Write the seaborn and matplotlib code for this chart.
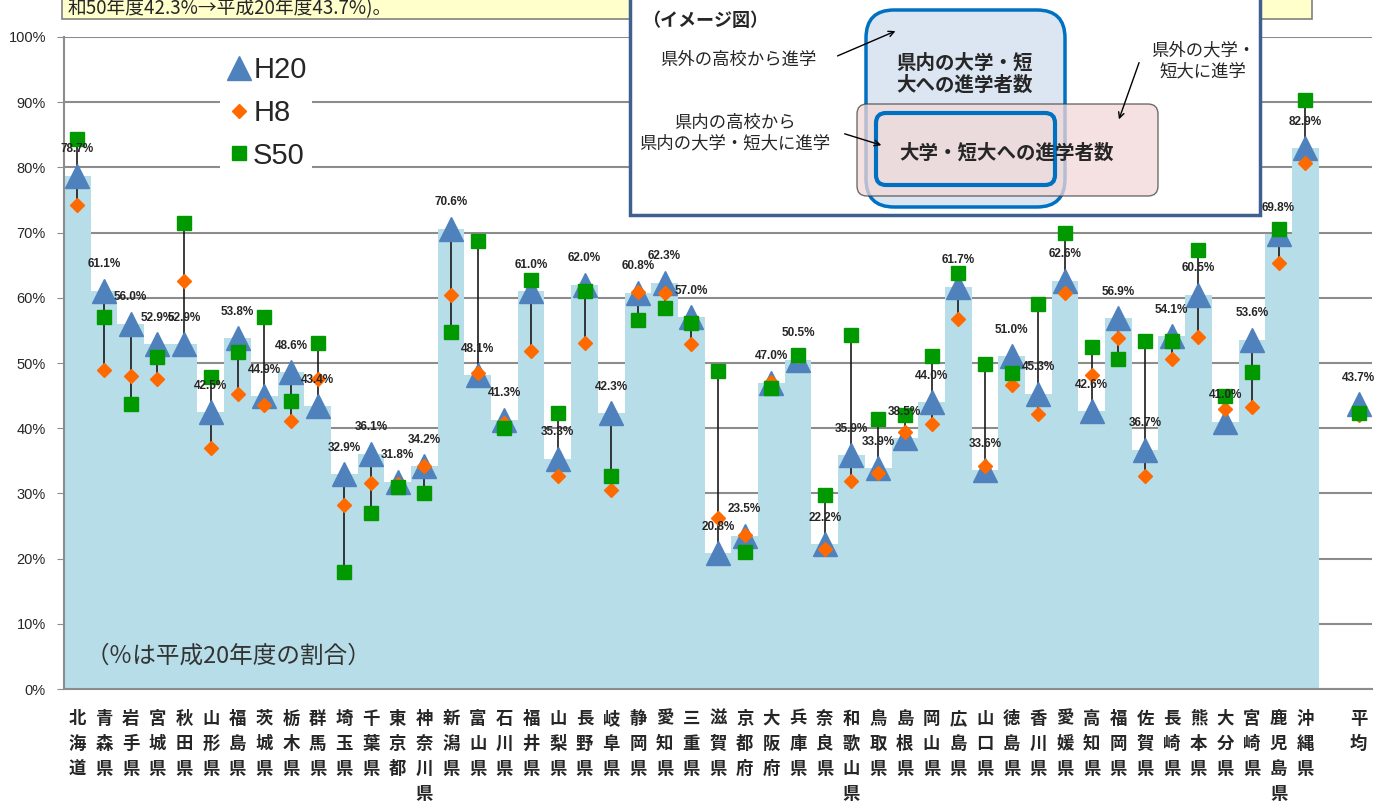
import numpy as np
import pandas as pd
import matplotlib
matplotlib.use('Agg')
import matplotlib.pyplot as plt
import seaborn as sns
from matplotlib.lines import Line2D
from matplotlib.patches import Rectangle, FancyBboxPatch

# Prefectures (47) and their shares of students going on to in-prefecture universities
prefs = ["北海道", "青森県", "岩手県", "宮城県", "秋田県", "山形県", "福島県", "茨城県", "栃木県", "群馬県",
         "埼玉県", "千葉県", "東京都", "神奈川県", "新潟県", "富山県", "石川県", "福井県", "山梨県", "長野県",
         "岐阜県", "静岡県", "愛知県", "三重県", "滋賀県", "京都府", "大阪府", "兵庫県", "奈良県", "和歌山県",
         "鳥取県", "島根県", "岡山県", "広島県", "山口県", "徳島県", "香川県", "愛媛県", "高知県", "福岡県",
         "佐賀県", "長崎県", "熊本県", "大分県", "宮崎県", "鹿児島県", "沖縄県"]
h20 = [78.7, 61.1, 56.0, 52.9, 52.9, 42.5, 53.8, 44.9, 48.6, 43.4,
       32.9, 36.1, 31.8, 34.2, 70.6, 48.1, 41.3, 61.0, 35.3, 62.0,
       42.3, 60.8, 62.3, 57.0, 20.8, 23.5, 47.0, 50.5, 22.2, 35.9,
       33.9, 38.5, 44.0, 61.7, 33.6, 51.0, 45.3, 62.6, 42.6, 56.9,
       36.7, 54.1, 60.5, 41.0, 53.6, 69.8, 82.9]
h8 = [74.3, 48.9, 48.0, 47.5, 62.6, 37.0, 45.2, 43.5, 41.1, 47.6,
      28.2, 31.6, 31.5, 34.2, 60.5, 48.4, 40.8, 51.8, 32.6, 53.1,
      30.5, 60.9, 60.8, 52.9, 26.3, 23.6, 47.1, 51.0, 21.5, 31.9,
      33.2, 39.4, 40.6, 56.7, 34.2, 46.7, 42.2, 60.8, 48.1, 53.8,
      32.6, 50.6, 54.0, 43.0, 43.2, 65.4, 80.7]
s50 = [84.3, 57.0, 43.7, 50.9, 71.5, 47.9, 51.7, 57.1, 44.2, 53.0,
       17.9, 27.0, 31.0, 30.0, 54.8, 68.7, 40.1, 62.7, 42.3, 61.1,
       32.7, 56.6, 58.4, 56.2, 48.7, 21.0, 46.1, 51.2, 29.7, 54.3,
       41.4, 42.1, 51.1, 63.8, 49.9, 48.4, 59.0, 70.0, 52.4, 50.6,
       53.4, 53.4, 67.3, 45.0, 48.6, 70.6, 90.3]
avg_label = "平均"
avg_h20, avg_h8, avg_s50 = 43.7, 42.0, 42.3
yticks = [0, 10, 20, 30, 40, 50, 60, 70, 80, 90, 100]

W, H = 1381, 805
BAR_C = '#B7DDE8'
TRI_C = '#4F81BD'
DIA_C = '#FF6A00'
SQ_C = '#009A00'
GRID_C = '#8C8C8C'

sns.set_style('white')
plt.rcParams['font.family'] = ['Liberation Sans', 'Noto Sans CJK JP', 'DejaVu Sans']
JP = ['Noto Sans CJK JP', 'DejaVu Sans']

df = pd.DataFrame({'pref': prefs, 'h20': h20})
order = prefs + [' ', avg_label]
xs = np.arange(len(order))
all_h20 = np.array(h20 + [np.nan, avg_h20])
all_h8 = np.array(h8 + [np.nan, avg_h8])
all_s50 = np.array(s50 + [np.nan, avg_s50])

fig = plt.figure(figsize=(W / 100, H / 100), dpi=100)
ax = fig.add_axes([64 / W, 1 - 689 / H, (1372 - 64) / W, (689 - 37) / H])

sns.barplot(data=df, x='pref', y='h20', order=order, color=BAR_C, saturation=1,
            width=1.0, linewidth=0, ax=ax, zorder=2)

# min-max connectors, then markers (triangle < diamond < square)
lo = np.nanmin(np.vstack([all_h20, all_h8, all_s50]), axis=0)
hi = np.nanmax(np.vstack([all_h20, all_h8, all_s50]), axis=0)
ax.vlines(xs, lo, hi, color='#1a1a1a', lw=1.2, zorder=3)
ax.plot(xs, all_h20, ls='none', marker='^', ms=17, color=TRI_C, zorder=4)
ax.plot(xs, all_h8, ls='none', marker='D', ms=7.5, color=DIA_C, zorder=5)
ax.plot(xs, all_s50, ls='none', marker='s', ms=10, color=SQ_C, zorder=6)

for x, v in zip(xs, all_h20):
    if np.isnan(v):
        continue
    ax.annotate(f'{v:.1f}%', (x, v), xytext=(0, 19), textcoords='offset points',
                ha='center', va='center', fontsize=8.5, fontweight='bold', zorder=7)

ax.set_xlim(-0.5, len(order) - 0.5)
ax.set_ylim(0, 100)
ax.set_yticks(yticks)
ax.set_yticklabels([f'{t}%' for t in yticks], fontsize=10.5)
ax.yaxis.grid(True, color=GRID_C, lw=1.5)
ax.set_axisbelow(True)
ax.set_xlabel('')
ax.set_ylabel('')
ax.set_xticks(xs)
ax.set_xticklabels(['\n'.join(p) for p in order], family=JP, fontweight='bold',
                   fontsize=12.5, linespacing=1.5, va='top')
ax.tick_params(axis='x', length=0, pad=15)
ax.tick_params(axis='y', length=5, color=GRID_C, pad=8, left=True)
for side in ['top', 'right']:
    ax.spines[side].set_visible(False)
for side in ['left', 'bottom']:
    ax.spines[side].set_color(GRID_C)
    ax.spines[side].set_linewidth(1.5)

ax.text(0.3, 5, '（％は平成20年度の割合）', family=JP, fontsize=17, color='#333333',
        va='center', ha='left', zorder=8)

handles = [Line2D([], [], ls='none', marker='^', ms=17, color=TRI_C),
           Line2D([], [], ls='none', marker='D', ms=7.5, color=DIA_C),
           Line2D([], [], ls='none', marker='s', ms=10, color=SQ_C)]
fig.legend(handles, ['H20', 'H8', 'S50'], loc='upper left',
           bbox_to_anchor=(205 / W, 1 - 36 / H), fontsize=21, frameon=True,
           facecolor='white', edgecolor='none', framealpha=1, handlelength=0.9,
           handletextpad=0.05, labelspacing=0.5, borderpad=0.2)

# overlay in pixel units for the header note and the image diagram
ov = fig.add_axes([0, 0, 1, 1], zorder=10)
ov.set_xlim(0, W)
ov.set_ylim(H, 0)
ov.axis('off')
ov.patch.set_alpha(0)

ov.add_patch(Rectangle((62, -10), 1250, 29, fc='#FFFFCC', ec='#808080', lw=1.2))
ov.text(68, 9, '和50年度42.3%→平成20年度43.7%)。', family=JP, fontsize=13.5, va='center', ha='left')

ov.add_patch(Rectangle((630, -5), 630, 220, fc='white', ec='#3F5F8F', lw=2.5))
ov.add_patch(FancyBboxPatch((866, 10), 199, 197, boxstyle='round,pad=0,rounding_size=28',
                            fc='#DCE6F2', ec='#0070C0', lw=2.5))
ov.add_patch(FancyBboxPatch((857, 104), 301, 92, boxstyle='round,pad=0,rounding_size=10',
                            fc='#F2D8D7', ec='#404040', lw=1, alpha=0.75))
ov.add_patch(FancyBboxPatch((876, 113), 179, 72, boxstyle='round,pad=0,rounding_size=10',
                            fc='none', ec='#0070C0', lw=3))

ov.text(642, 20, '（イメージ図）', family=JP, fontsize=13, fontweight='bold', va='center', ha='left')
ov.text(738, 60, '県外の高校から進学', family=JP, fontsize=12.5, va='center', ha='center')
ov.text(965, 74, '県内の大学・短\n大への進学者数', family=JP, fontsize=14, fontweight='bold',
        va='center', ha='center', linespacing=1.2)
ov.text(1203, 61, '県外の大学・\n短大に進学', family=JP, fontsize=12.5, va='center', ha='center',
        linespacing=1.2)
ov.text(735, 133, '県内の高校から\n県内の大学・短大に進学', family=JP, fontsize=12.5,
        va='center', ha='center', linespacing=1.2)
ov.text(1007, 153, '大学・短大への進学者数', family=JP, fontsize=14, fontweight='bold',
        va='center', ha='center')
arrow = dict(arrowstyle='->', lw=1, color='black')
ov.annotate('', xy=(898, 30), xytext=(835, 57), arrowprops=arrow)
ov.annotate('', xy=(1118, 122), xytext=(1140, 60), arrowprops=arrow)
ov.annotate('', xy=(884, 146), xytext=(842, 133), arrowprops=arrow)

fig.savefig('out.png', dpi=100)
